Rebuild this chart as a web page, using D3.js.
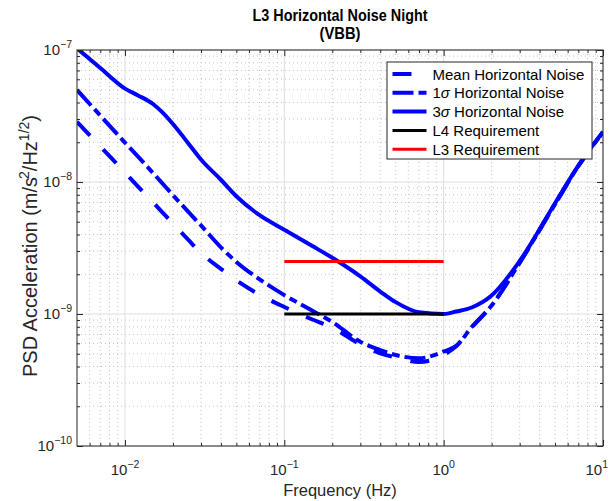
<!DOCTYPE html>
<html>
<head>
<meta charset="utf-8">
<script src="https://cdn.jsdelivr.net/npm/d3@7/dist/d3.min.js"></script>
<style>
  html, body { margin: 0; padding: 0; background: #fff; }
  svg { display: block; font-family: "Liberation Sans", Arial, Helvetica, sans-serif; }
</style>
</head>
<body>
<svg id="chart" width="614" height="501"></svg>
<script>
// Frequency grid (Hz) shared by the noise curves
const freqHz = [0.005, 0.007, 0.01, 0.012, 0.015, 0.017, 0.02, 0.025, 0.03, 0.04, 0.05, 0.07,
  0.1, 0.15, 0.2, 0.3, 0.4, 0.5, 0.7, 1, 1.2, 1.5, 2, 3, 5, 7, 10];

// PSD acceleration, m/s^2/Hz^(1/2)
const meanNoise = [2.86e-8, 1.86e-8, 1.18e-8, 9.3e-9, 7.0e-9, 5.97e-9, 4.84e-9, 3.64e-9, 2.9e-9, 2.2e-9, 1.8e-9, 1.40e-9,
  1.13e-9, 9.08e-10, 7.89e-10, 5.89e-10, 5.04e-10, 4.69e-10, 4.33e-10, 4.9e-10, 5.73e-10, 7.9e-10, 1.16e-9, 2.45e-9, 6.8e-9, 1.32e-8, 2.38e-8];
const sigma1Noise = [4.98e-8, 3.19e-8, 1.99e-8, 1.57e-8, 1.17e-8, 9.9e-9, 7.96e-9, 5.93e-9, 4.69e-9, 3.2e-9, 2.48e-9, 1.83e-9,
  1.39e-9, 1.06e-9, 8.7e-10, 6.16e-10, 5.33e-10, 4.89e-10, 4.62e-10, 5.2e-10, 5.73e-10, 7.97e-10, 1.16e-9, 2.45e-9, 6.8e-9, 1.32e-8, 2.38e-8];
const sigma3Noise = [1.03e-7, 7.3e-8, 5.1e-8, 4.55e-8, 3.9e-8, 3.41e-8, 2.75e-8, 1.96e-8, 1.48e-8, 1.04e-8, 7.8e-9, 5.6e-9,
  4.35e-9, 3.27e-9, 2.67e-9, 1.93e-9, 1.48e-9, 1.23e-9, 1.03e-9, 1.0e-9, 1.045e-9, 1.12e-9, 1.38e-9, 2.52e-9, 6.9e-9, 1.33e-8, 2.4e-8];

// Requirement levels over their frequency band
const reqFreq = [0.1, 1];
const l4Level = [1e-9, 1e-9];
const l3Level = [2.5e-9, 2.5e-9];

// Axis decades and their exponent labels
const xTickValues = [0.01, 0.1, 1, 10];
const xTickExp = ["\u22122", "\u22121", "0", "1"];
const yTickValues = [1e-10, 1e-9, 1e-8, 1e-7];
const yTickExp = ["\u221210", "\u22129", "\u22128", "\u22127"];

const legendLabels = ["Mean Horizontal Noise", "1σ Horizontal Noise", "3σ Horizontal Noise", "L4 Requirement", "L3 Requirement"];

const L = 77, R = 603, T = 50, B = 446;
const svg = d3.select("#chart");
svg.append("rect").attr("width", 614).attr("height", 501).attr("fill", "#fff");

const x = d3.scaleLog().domain([0.005, 10]).range([L, R]);
const y = d3.scaleLog().domain([1e-10, 1e-7]).range([B, T]);

// minor positions (2..9 within each decade)
const minorX = [], minorY = [];
[0.001, 0.01, 0.1, 1].forEach(d => { for (let k = 2; k <= 9; k++) { const v = d * k; if (v > 0.005 && v < 10) minorX.push(v); } });
[1e-10, 1e-9, 1e-8].forEach(d => { for (let k = 2; k <= 9; k++) minorY.push(d * k); });

// grid
const grid = svg.append("g");
grid.selectAll(".mgx").data(minorX).join("line")
  .attr("x1", d => x(d)).attr("x2", d => x(d)).attr("y1", T).attr("y2", B)
  .attr("stroke", "#c4c4c4").attr("stroke-width", 1).attr("stroke-dasharray", "1,3");
grid.selectAll(".mgy").data(minorY).join("line")
  .attr("x1", L).attr("x2", R).attr("y1", d => y(d)).attr("y2", d => y(d))
  .attr("stroke", "#c4c4c4").attr("stroke-width", 1).attr("stroke-dasharray", "1,3");
grid.selectAll(".Mgx").data(xTickValues).join("line")
  .attr("x1", d => x(d)).attr("x2", d => x(d)).attr("y1", T).attr("y2", B)
  .attr("stroke", "#dedede").attr("stroke-width", 1);
grid.selectAll(".Mgy").data(yTickValues).join("line")
  .attr("x1", L).attr("x2", R).attr("y1", d => y(d)).attr("y2", d => y(d))
  .attr("stroke", "#dedede").attr("stroke-width", 1);

// curves
const clip = svg.append("clipPath").attr("id", "plotclip");
clip.append("rect").attr("x", L).attr("y", T).attr("width", R - L).attr("height", B - T);
const plot = svg.append("g").attr("clip-path", "url(#plotclip)");

const line = d3.line().x(d => x(d[0])).y(d => y(d[1])).curve(d3.curveMonotoneX);
const pairs = vals => freqHz.map((f, i) => [f, vals[i]]);

const series = [
  { vals: meanNoise, dash: "19,19", color: "#0000ff", w: 4 },
  { vals: sigma1Noise, dash: "21,5,8,5", color: "#0000ff", w: 4 },
  { vals: sigma3Noise, dash: null, color: "#0000ff", w: 4 }
];
series.forEach(s => {
  plot.append("path").datum(pairs(s.vals)).attr("d", line)
    .attr("fill", "none").attr("stroke", s.color).attr("stroke-width", s.w)
    .attr("stroke-dasharray", s.dash);
});
const straight = d3.line().x(d => x(d[0])).y(d => y(d[1]));
plot.append("path").datum(reqFreq.map((f, i) => [f, l4Level[i]])).attr("d", straight)
  .attr("stroke", "#000").attr("stroke-width", 3).attr("fill", "none");
plot.append("path").datum(reqFreq.map((f, i) => [f, l3Level[i]])).attr("d", straight)
  .attr("stroke", "#ff0000").attr("stroke-width", 3).attr("fill", "none");

// axes ticks (inward on all four sides)
function ticks(axisFn, scale, vals, size, transform) {
  const g = svg.append("g").attr("transform", transform)
    .call(axisFn(scale).tickValues(vals).tickSize(size).tickFormat(""));
  g.select(".domain").remove();
  g.selectAll("line").attr("stroke", "#262626");
  return g;
}
ticks(d3.axisBottom, x, xTickValues, -6, `translate(0,${B})`);
ticks(d3.axisBottom, x, minorX, -3, `translate(0,${B})`);
ticks(d3.axisTop, x, xTickValues, -6, `translate(0,${T})`);
ticks(d3.axisTop, x, minorX, -3, `translate(0,${T})`);
ticks(d3.axisLeft, y, yTickValues, -6, `translate(${L},0)`);
ticks(d3.axisLeft, y, minorY, -3, `translate(${L},0)`);
ticks(d3.axisRight, y, yTickValues, -6, `translate(${R},0)`);
ticks(d3.axisRight, y, minorY, -3, `translate(${R},0)`);

svg.append("rect").attr("x", L).attr("y", T).attr("width", R - L).attr("height", B - T)
  .attr("fill", "none").attr("stroke", "#262626").attr("stroke-width", 1);

// tick labels (kept inside the figure at the right edge)
xTickValues.forEach((v, i) => {
  const t = svg.append("text").attr("x", x(v)).attr("y", 475).attr("text-anchor", "middle")
    .attr("font-size", 15).attr("fill", "#262626");
  t.append("tspan").text("10");
  t.append("tspan").attr("dy", -7).attr("font-size", 10.5).text(xTickExp[i]);
  const w = t.node().getComputedTextLength();
  if (x(v) + w / 2 > 608) t.attr("x", 608 - w / 2);
});
yTickValues.forEach((v, i) => {
  const t = svg.append("text").attr("x", 72).attr("y", y(v) + 5).attr("text-anchor", "end")
    .attr("font-size", 15).attr("fill", "#262626");
  t.append("tspan").text("10");
  t.append("tspan").attr("dy", -7).attr("font-size", 10.5).text(yTickExp[i]);
});

// axis titles
svg.append("text").attr("x", (L + R) / 2).attr("y", 496).attr("text-anchor", "middle")
  .attr("font-size", 16.5).attr("fill", "#262626").text("Frequency (Hz)");
const yl = svg.append("text").attr("transform", `translate(37,${(T + B) / 2 - 2}) rotate(-90)`)
  .attr("text-anchor", "middle").attr("font-size", 20).attr("fill", "#262626");
yl.append("tspan").text("PSD Acceleration (m/s");
yl.append("tspan").attr("dy", -8).attr("dx", -2).attr("font-size", 14).text("2");
yl.append("tspan").attr("dy", 8).text("/Hz");
yl.append("tspan").attr("dy", -8).attr("font-size", 14).text("1/2");
yl.append("tspan").attr("dy", 8).text(")");

// title
svg.append("text").attr("x", (L + R) / 2).attr("y", 21).attr("text-anchor", "middle")
  .attr("font-size", 16.5).attr("font-weight", "bold")
  .attr("textLength", 175).attr("lengthAdjust", "spacingAndGlyphs").text("L3 Horizontal Noise Night");
svg.append("text").attr("x", (L + R) / 2).attr("y", 38.5).attr("text-anchor", "middle")
  .attr("font-size", 16.5).attr("font-weight", "bold")
  .attr("textLength", 41).attr("lengthAdjust", "spacingAndGlyphs").text("(VBB)");

// legend
const lg = svg.append("g");
lg.append("rect").attr("x", 387).attr("y", 62).attr("width", 205).attr("height", 97)
  .attr("fill", "#fff").attr("stroke", "#262626").attr("stroke-width", 1);
const legendStyles = [
  { color: "#0000ff", dash: "19,19", w: 4 },
  { color: "#0000ff", dash: "21,5,8,5", w: 4 },
  { color: "#0000ff", dash: null, w: 4 },
  { color: "#000", dash: null, w: 3 },
  { color: "#ff0000", dash: null, w: 3 }
];
legendLabels.forEach((lab, i) => {
  const ry = 74 + i * 18.8;
  lg.append("line").attr("x1", 392.5).attr("x2", 426.5).attr("y1", ry).attr("y2", ry)
    .attr("stroke", legendStyles[i].color).attr("stroke-width", legendStyles[i].w)
    .attr("stroke-dasharray", legendStyles[i].dash);
  const t = lg.append("text").attr("x", 432.5).attr("y", ry + 5.5).attr("font-size", 15).attr("fill", "#000");
  if (lab.includes("σ")) {
    const parts = lab.split("σ");
    t.append("tspan").text(parts[0]);
    t.append("tspan").attr("font-style", "italic").text("σ");
    t.append("tspan").text(parts[1]);
  } else {
    t.text(lab);
  }
});
</script>
</body>
</html>
